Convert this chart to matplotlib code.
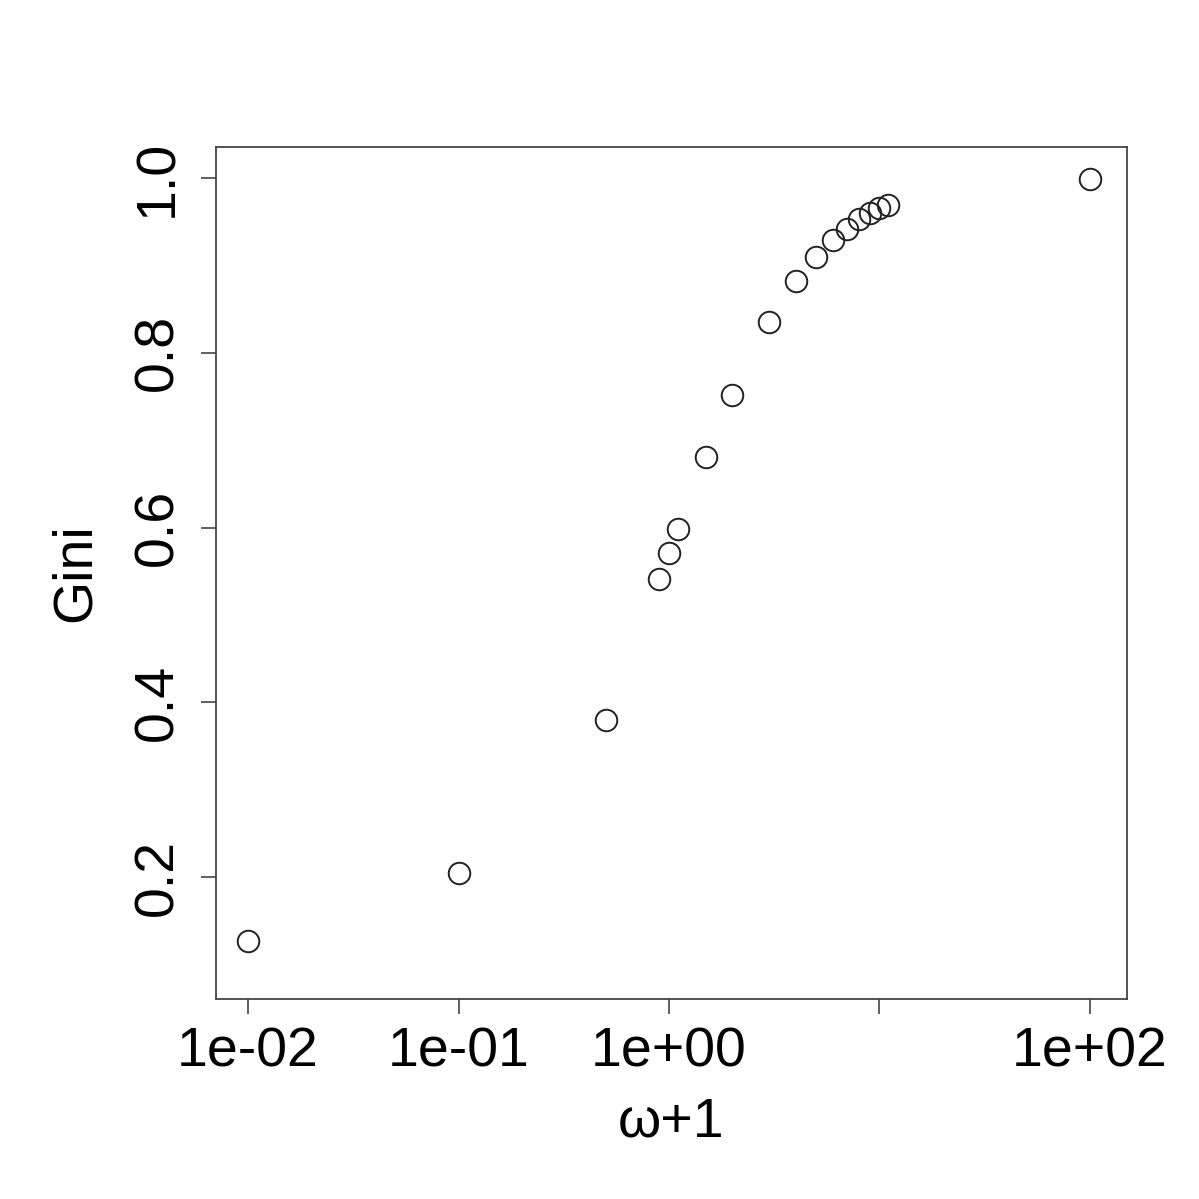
import matplotlib
matplotlib.use("Agg")
import matplotlib.pyplot as plt
from matplotlib.ticker import FixedLocator, FixedFormatter, NullLocator

# omega + 1 values and Gini coefficients
omega_plus_1 = [0.01, 0.1, 0.5, 0.9, 1.0, 1.1, 1.5, 2, 3, 4, 5, 6, 7, 8, 9, 10, 11, 100]
gini = [0.127, 0.205, 0.380, 0.541, 0.571, 0.598, 0.681, 0.752, 0.835,
        0.882, 0.910, 0.929, 0.942, 0.953, 0.960, 0.966, 0.969, 0.999]

x_ticks = [0.01, 0.1, 1, 10, 100]
x_tick_labels = ["1e-02", "1e-01", "1e+00", "", "1e+02"]
y_ticks = [0.2, 0.4, 0.6, 0.8, 1.0]
y_tick_labels = ["0.2", "0.4", "0.6", "0.8", "1.0"]

plt.rcParams['font.family'] = ['Liberation Sans', 'DejaVu Sans']

fig = plt.figure(figsize=(11.99, 11.99), dpi=100)
ax = fig.add_axes([0.1802, 0.1668, 0.9400 - 0.1802, 0.8774 - 0.1668])

ax.plot(omega_plus_1, gini, linestyle='none', marker='o', markersize=15.5,
        markerfacecolor='none', markeredgecolor='#222222', markeredgewidth=1.4)

ax.set_xscale('log')
ax.set_xlim(0.00705, 150)
ax.set_ylim(0.0604, 1.0355)

ax.xaxis.set_major_locator(FixedLocator(x_ticks))
ax.xaxis.set_major_formatter(FixedFormatter(x_tick_labels))
ax.xaxis.set_minor_locator(NullLocator())
ax.yaxis.set_major_locator(FixedLocator(y_ticks))
ax.yaxis.set_major_formatter(FixedFormatter(y_tick_labels))

for s in ax.spines.values():
    s.set_color('#444444')
    s.set_linewidth(1.3)

ax.tick_params(axis='both', direction='out', length=11, width=1.2,
               color='#444444', labelsize=40)
ax.tick_params(axis='x', pad=9)
ax.tick_params(axis='y', pad=12)
for lbl in ax.get_yticklabels():
    lbl.set_rotation(90)
    lbl.set_va('center')

ax.set_xlabel('ω+1', fontsize=40, labelpad=13)
ax.set_ylabel('Gini', fontsize=40, labelpad=22)

fig.savefig('out.png', dpi=100, facecolor='white')
